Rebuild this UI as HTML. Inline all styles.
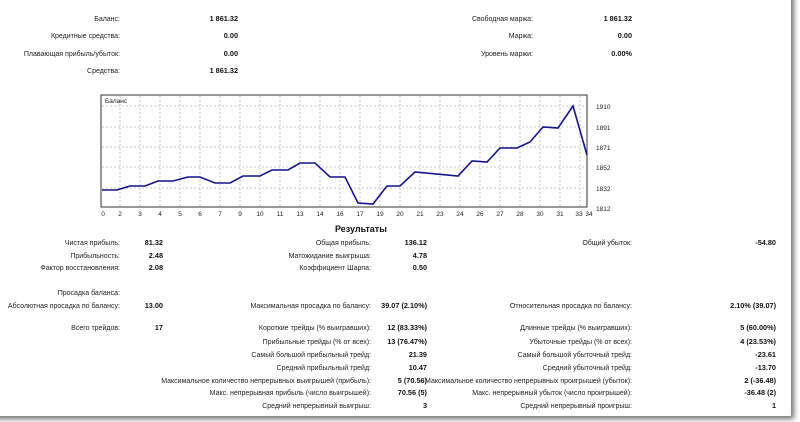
<!DOCTYPE html>
<html><head><meta charset="utf-8"><style>
body{margin:0;width:800px;height:422px;background:#fff;overflow:hidden;position:relative;font-family:"Liberation Sans","DejaVu Sans",sans-serif;font-size:7px;color:#222}
#card{position:absolute;left:-10px;top:-10px;width:801px;height:426px;background:#fff;box-shadow:2px 2px 5px 1px rgba(0,0,0,0.55)}
.t{position:absolute;white-space:nowrap;line-height:9px}
.r{transform:translateX(-100%)}
.b{font-weight:bold;color:#111;font-size:7.3px}
.t:not(.b){margin-top:1px}
</style></head><body>
<div id="card"></div>
<svg style="position:absolute;left:0;top:0" width="800" height="422">
<rect x="101" y="95" width="486" height="112" fill="#fff" stroke="#333" stroke-width="1"/>
<g stroke="#c8c8c8" stroke-dasharray="2,2" stroke-width="1">
<line x1="120" y1="96" x2="120" y2="207"/><line x1="140" y1="96" x2="140" y2="207"/><line x1="160" y1="96" x2="160" y2="207"/><line x1="180" y1="96" x2="180" y2="207"/><line x1="200" y1="96" x2="200" y2="207"/><line x1="220" y1="96" x2="220" y2="207"/><line x1="240" y1="96" x2="240" y2="207"/><line x1="260" y1="96" x2="260" y2="207"/><line x1="280" y1="96" x2="280" y2="207"/><line x1="300" y1="96" x2="300" y2="207"/><line x1="320" y1="96" x2="320" y2="207"/><line x1="340" y1="96" x2="340" y2="207"/><line x1="360" y1="96" x2="360" y2="207"/><line x1="380" y1="96" x2="380" y2="207"/><line x1="400" y1="96" x2="400" y2="207"/><line x1="420" y1="96" x2="420" y2="207"/><line x1="440" y1="96" x2="440" y2="207"/><line x1="460" y1="96" x2="460" y2="207"/><line x1="480" y1="96" x2="480" y2="207"/><line x1="500" y1="96" x2="500" y2="207"/><line x1="520" y1="96" x2="520" y2="207"/><line x1="540" y1="96" x2="540" y2="207"/><line x1="560" y1="96" x2="560" y2="207"/><line x1="580" y1="96" x2="580" y2="207"/>
<line x1="102" y1="106" x2="586" y2="106"/><line x1="102" y1="127" x2="586" y2="127"/><line x1="102" y1="147" x2="586" y2="147"/><line x1="102" y1="167" x2="586" y2="167"/><line x1="102" y1="188" x2="586" y2="188"/>
</g>
<polyline fill="none" stroke="#14148c" stroke-width="1.6" points="102,190 117,190 130,186 145,186 158,181 173,181 188,177 200,177 215,183 230,183 243,176 260,176 272,170 288,170 300,163 315,163 330,177 345,177 358,203 373,204 387,186 400,186 415,172 458,176 472,161 487,162 500,148 517,148 530,142 543,127 558,128 573,106 587,155"/>
<g font-family="Liberation Sans,sans-serif" font-size="6.5" fill="#222">
<text x="105" y="103">Баланс</text>
<text x="596" y="109">1910</text><text x="596" y="130">1891</text><text x="596" y="150">1871</text><text x="596" y="170">1852</text><text x="596" y="191">1832</text><text x="596" y="211">1812</text>
<g text-anchor="middle">
<text x="103" y="216">0</text><text x="120" y="216">2</text><text x="140" y="216">3</text><text x="160" y="216">4</text><text x="180" y="216">5</text><text x="200" y="216">6</text><text x="220" y="216">7</text><text x="240" y="216">9</text><text x="260" y="216">10</text><text x="280" y="216">11</text><text x="300" y="216">13</text><text x="320" y="216">14</text><text x="340" y="216">16</text><text x="360" y="216">17</text><text x="380" y="216">19</text><text x="400" y="216">20</text><text x="420" y="216">21</text><text x="440" y="216">23</text><text x="460" y="216">24</text><text x="480" y="216">26</text><text x="500" y="216">27</text><text x="520" y="216">28</text><text x="540" y="216">30</text><text x="560" y="216">31</text><text x="579" y="216">33</text><text x="589" y="216">34</text>
</g></g>
</svg>

<div class="t r" style="left:120px;top:14px">Баланс:</div><div class="t r b" style="left:238px;top:14px">1 861.32</div>
<div class="t r" style="left:120px;top:31px">Кредитные средства:</div><div class="t r b" style="left:238px;top:31px">0.00</div>
<div class="t r" style="left:120px;top:49px">Плавающая прибыль/убыток:</div><div class="t r b" style="left:238px;top:49px">0.00</div>
<div class="t r" style="left:120px;top:66px">Средства:</div><div class="t r b" style="left:238px;top:66px">1 861.32</div>
<div class="t r" style="left:533px;top:14px">Свободная маржа:</div><div class="t r b" style="left:632px;top:14px">1 861.32</div>
<div class="t r" style="left:533px;top:31px">Маржа:</div><div class="t r b" style="left:632px;top:31px">0.00</div>
<div class="t r" style="left:533px;top:49px">Уровень маржи:</div><div class="t r b" style="left:632px;top:49px">0.00%</div>

<div class="t b" style="left:335px;top:224px;font-size:9px;line-height:11px">Результаты</div>

<div class="t r" style="left:120px;top:238px">Чистая прибыль:</div><div class="t r b" style="left:163px;top:238px">81.32</div>
<div class="t r" style="left:120px;top:251px">Прибыльность:</div><div class="t r b" style="left:163px;top:251px">2.48</div>
<div class="t r" style="left:120px;top:263px">Фактор восстановления:</div><div class="t r b" style="left:163px;top:263px">2.08</div>
<div class="t r" style="left:120px;top:288px">Просадка баланса:</div>
<div class="t r" style="left:120px;top:301px">Абсолютная просадка по балансу:</div><div class="t r b" style="left:163px;top:301px">13.00</div>
<div class="t r" style="left:120px;top:323px">Всего трейдов:</div><div class="t r b" style="left:163px;top:323px">17</div>

<div class="t r" style="left:371px;top:238px">Общая прибыль:</div><div class="t r b" style="left:427px;top:238px">136.12</div>
<div class="t r" style="left:371px;top:251px">Матожидание выигрыша:</div><div class="t r b" style="left:427px;top:251px">4.78</div>
<div class="t r" style="left:371px;top:263px">Коэффициент Шарпа:</div><div class="t r b" style="left:427px;top:263px">0.50</div>
<div class="t r" style="left:371px;top:301px">Максимальная просадка по балансу:</div><div class="t r b" style="left:427px;top:301px">39.07 (2.10%)</div>
<div class="t r" style="left:371px;top:323px">Короткие трейды (% выигравших):</div><div class="t r b" style="left:427px;top:323px">12 (83.33%)</div>
<div class="t r" style="left:371px;top:337px">Прибыльные трейды (% от всех):</div><div class="t r b" style="left:427px;top:337px">13 (76.47%)</div>
<div class="t r" style="left:371px;top:350px">Самый большой прибыльный трейд:</div><div class="t r b" style="left:427px;top:350px">21.39</div>
<div class="t r" style="left:371px;top:363px">Средний прибыльный трейд:</div><div class="t r b" style="left:427px;top:363px">10.47</div>
<div class="t r" style="left:371px;top:376px">Максимальное количество непрерывных выигрышей (прибыль):</div><div class="t r b" style="left:427px;top:376px">5 (70.56)</div>
<div class="t r" style="left:371px;top:388px">Макс. непрерывная прибыль (число выигрышей):</div><div class="t r b" style="left:427px;top:388px">70.56 (5)</div>
<div class="t r" style="left:371px;top:401px">Средний непрерывный выигрыш:</div><div class="t r b" style="left:427px;top:401px">3</div>

<div class="t r" style="left:632px;top:238px">Общий убыток:</div><div class="t r b" style="left:776px;top:238px">-54.80</div>
<div class="t r" style="left:632px;top:301px">Относительная просадка по балансу:</div><div class="t r b" style="left:776px;top:301px">2.10% (39.07)</div>
<div class="t r" style="left:632px;top:323px">Длинные трейды (% выигравших):</div><div class="t r b" style="left:776px;top:323px">5 (60.00%)</div>
<div class="t r" style="left:632px;top:337px">Убыточные трейды (% от всех):</div><div class="t r b" style="left:776px;top:337px">4 (23.53%)</div>
<div class="t r" style="left:632px;top:350px">Самый большой убыточный трейд:</div><div class="t r b" style="left:776px;top:350px">-23.61</div>
<div class="t r" style="left:632px;top:363px">Средний убыточный трейд:</div><div class="t r b" style="left:776px;top:363px">-13.70</div>
<div class="t r" style="left:632px;top:376px">Максимальное количество непрерывных проигрышей (убыток):</div><div class="t r b" style="left:776px;top:376px">2 (-36.48)</div>
<div class="t r" style="left:632px;top:388px">Макс. непрерывный убыток (число проигрышей):</div><div class="t r b" style="left:776px;top:388px">-36.48 (2)</div>
<div class="t r" style="left:632px;top:401px">Средний непрерывный проигрыш:</div><div class="t r b" style="left:776px;top:401px">1</div>
</body></html>
